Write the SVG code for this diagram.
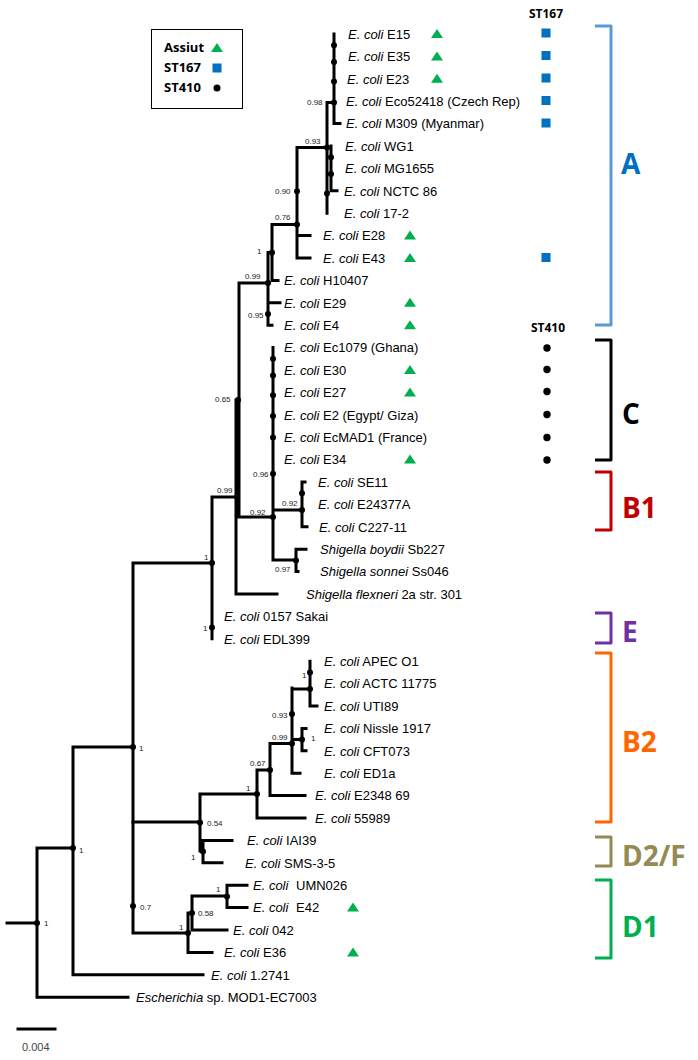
<svg xmlns="http://www.w3.org/2000/svg" width="698" height="1060" viewBox="0 0 698 1060">
<style>
.tr{fill:none;stroke:#000;stroke-width:3;stroke-linecap:square}
.lf{font-family:"Liberation Sans",Arial,sans-serif;font-size:13px;fill:#000}
.it{font-style:italic}
.bs{font-family:"Liberation Sans",Arial,sans-serif;font-size:8px;fill:#222}
.hd{font-family:"Open Sans","Liberation Sans",sans-serif;font-weight:bold;font-size:12px;fill:#000}
.lg{font-family:"Open Sans","Liberation Sans",sans-serif;font-weight:bold;font-size:13px;fill:#000}
.cl{font-family:"Open Sans","Liberation Sans",sans-serif;font-weight:bold;font-size:28px}
.br{fill:none;stroke-width:3;stroke-linejoin:round}
.tri{fill:#00b050}
.sq{fill:#0070c0}
</style>
<defs>
<path id="tri" d="M-6,4 L6,4 L0,-5 Z"/>
<rect id="sq" x="-4.5" y="-4.5" width="9" height="9"/>
</defs>
<g id="legend">
<rect x="151.5" y="29.5" width="91" height="79" fill="#fff" stroke="#000" stroke-width="1"/>
<text class="lg" x="164" y="52">Assiut</text>
<text class="lg" x="164" y="72">ST167</text>
<text class="lg" x="164" y="92">ST410</text>
<use href="#tri" x="217" y="48" class="tri"/>
<use href="#sq" x="217" y="68" class="sq"/>
<circle cx="217" cy="88" r="3.5" fill="#000"/>
</g>
<g id="connectors">
<path class="tr" d="M334,34 V123.6 H340 M327,102.4 H334 M327,102.4 V213.2 M297,147.5 H327 M331,146 V190.8 H337 M327,174 H331 M297,147.5 V258 M297,235.6 H310 M297,258 H310 M272,224.6 H297 M272,224.6 V280.4 H278 M268,252.5 H272 M268,252.5 V325.2 H272 M268,302.8 H280 M239,283 H268 M239,283 V517 M236,400 V594 H277 M212,497 H237 M239,517 H273 M273,347.6 V560 H296 M273,510 H302 M302,482 V526.8 H307 M302,482 H305 M296,549.2 V571.6 H298 M296,549.2 H306 M212,497 V638.8"/>
<path class="tr" d="M133,563 H212 M133,563 V933 H188 M73,747 H133 M73,747 V974.8 H203 M37,848 H73 M37,848 V997.2 H128 M7,923 H37"/>
<path class="tr" d="M133,822 H200 M200,794 V851 H203 M203,840.4 V862.8 H222 M203,840.4 H232 M200,794 H257 M257,770 V818 H305 M257,770 H270 M270,743.6 V795.6 H305 M270,743.6 H292 M292,739.6 H302 M292,688 V773.2 H300 M302,728.4 V750.8 H306 M302,728.4 H306 M292,689 H310 M310,661.2 V706 H317"/>
<path class="tr" d="M188,913 V952.4 H212 M192,896 V930 H227 M188,913 H192 M192,896 H227 M227,885.2 V907.6 H247 M227,885.2 H247"/>
<path class="tr" d="M18,1029 H55"/>
<g fill="#000">
<circle cx="334" cy="45.2" r="3"/><circle cx="334" cy="62" r="3"/><circle cx="334" cy="81.6" r="3"/><circle cx="334" cy="102.4" r="3"/>
<circle cx="327" cy="147.5" r="3"/><circle cx="331" cy="157.2" r="3"/><circle cx="331" cy="174" r="3"/><circle cx="327" cy="193.6" r="3"/>
<circle cx="297" cy="191.3" r="3"/><circle cx="297" cy="224.6" r="3"/><circle cx="272" cy="252.5" r="3"/><circle cx="268" cy="283" r="3"/><circle cx="268" cy="314" r="3"/>
<circle cx="238" cy="400" r="3"/><circle cx="237" cy="497" r="3"/><circle cx="273" cy="517" r="3"/>
<circle cx="273" cy="358.8" r="3"/><circle cx="273" cy="375.6" r="3"/><circle cx="273" cy="395.2" r="3"/><circle cx="273" cy="416" r="3"/><circle cx="273" cy="437.6" r="3"/><circle cx="273" cy="473.8" r="3"/>
<circle cx="302" cy="493.2" r="3"/><circle cx="302" cy="510" r="3"/><circle cx="296" cy="560.4" r="3"/>
<circle cx="212" cy="563" r="3"/><circle cx="212" cy="627.6" r="3"/>
<circle cx="310" cy="672.4" r="3"/><circle cx="310" cy="689" r="3"/><circle cx="292" cy="714" r="3"/><circle cx="292" cy="743.6" r="3"/><circle cx="302" cy="739.6" r="3"/><circle cx="270" cy="770" r="3"/><circle cx="257" cy="794" r="3"/><circle cx="200" cy="822.5" r="3"/><circle cx="203" cy="851.6" r="3"/>
<circle cx="133" cy="747" r="3"/><circle cx="133" cy="906" r="3"/><circle cx="188" cy="933" r="3"/><circle cx="192" cy="913" r="3"/><circle cx="227" cy="896.4" r="3"/>
<circle cx="73" cy="848" r="3"/><circle cx="37" cy="923" r="3"/>
</g>
</g>
<g id="support">
<text class="bs" x="307" y="105">0.98</text>
<text class="bs" x="305" y="144">0.93</text>
<text class="bs" x="275" y="194">0.90</text>
<text class="bs" x="275" y="220">0.76</text>
<text class="bs" x="257" y="254">1</text>
<text class="bs" x="245" y="279">0.99</text>
<text class="bs" x="248" y="318">0.95</text>
<text class="bs" x="215" y="402">0.65</text>
<text class="bs" x="217" y="493">0.99</text>
<text class="bs" x="250" y="515">0.92</text>
<text class="bs" x="253" y="477">0.96</text>
<text class="bs" x="282" y="506">0.92</text>
<text class="bs" x="275" y="572">0.97</text>
<text class="bs" x="204" y="560">1</text>
<text class="bs" x="203" y="631">1</text>
<text class="bs" x="302" y="678">1</text>
<text class="bs" x="272" y="718">0.93</text>
<text class="bs" x="272" y="740">0.99</text>
<text class="bs" x="311" y="741">1</text>
<text class="bs" x="250" y="766">0.67</text>
<text class="bs" x="246" y="791">1</text>
<text class="bs" x="207" y="826">0.54</text>
<text class="bs" x="191" y="860">1</text>
<text class="bs" x="140" y="910">0.7</text>
<text class="bs" x="216" y="892">1</text>
<text class="bs" x="198" y="916">0.58</text>
<text class="bs" x="179" y="930">1</text>
<text class="bs" x="139" y="751">1</text>
<text class="bs" x="79" y="853">1</text>
<text class="bs" x="44" y="926">1</text>
</g>
<g id="leaves">
<text class="lf" x="348" y="38.7"><tspan class="it">E. coli</tspan> E15</text>
<text class="lf" x="348" y="61.1"><tspan class="it">E. coli</tspan> E35</text>
<text class="lf" x="347" y="83.5"><tspan class="it">E. coli</tspan> E23</text>
<text class="lf" x="346" y="105.9"><tspan class="it">E. coli</tspan> Eco52418 (Czech Rep)</text>
<text class="lf" x="346" y="128.3"><tspan class="it">E. coli</tspan> M309 (Myanmar)</text>
<text class="lf" x="345" y="150.7"><tspan class="it">E. coli</tspan> WG1</text>
<text class="lf" x="345" y="173.1"><tspan class="it">E. coli</tspan> MG1655</text>
<text class="lf" x="344" y="195.5"><tspan class="it">E. coli</tspan> NCTC 86</text>
<text class="lf" x="344" y="217.9"><tspan class="it">E. coli</tspan> 17-2</text>
<text class="lf" x="323" y="240.3"><tspan class="it">E. coli</tspan> E28</text>
<text class="lf" x="323" y="262.7"><tspan class="it">E. coli</tspan> E43</text>
<text class="lf" x="284" y="285.1"><tspan class="it">E. coli</tspan> H10407</text>
<text class="lf" x="284" y="307.5"><tspan class="it">E. coli</tspan> E29</text>
<text class="lf" x="284" y="329.9"><tspan class="it">E. coli</tspan> E4</text>
<text class="lf" x="284" y="352.3"><tspan class="it">E. coli</tspan> Ec1079 (Ghana)</text>
<text class="lf" x="284" y="374.7"><tspan class="it">E. coli</tspan> E30</text>
<text class="lf" x="284" y="397.1"><tspan class="it">E. coli</tspan> E27</text>
<text class="lf" x="284" y="419.5"><tspan class="it">E. coli</tspan> E2 (Egypt/ Giza)</text>
<text class="lf" x="284" y="441.9"><tspan class="it">E. coli</tspan> EcMAD1 (France)</text>
<text class="lf" x="284" y="464.3"><tspan class="it">E. coli</tspan> E34</text>
<text class="lf" x="318" y="486.7"><tspan class="it">E. coli</tspan> SE11</text>
<text class="lf" x="318" y="509.1"><tspan class="it">E. coli</tspan> E24377A</text>
<text class="lf" x="319" y="531.5"><tspan class="it">E. coli</tspan> C227-11</text>
<text class="lf" x="320" y="553.9"><tspan class="it">Shigella boydii</tspan> Sb227</text>
<text class="lf" x="320" y="576.3"><tspan class="it">Shigella sonnei</tspan> Ss046</text>
<text class="lf" x="306" y="598.7"><tspan class="it">Shigella flexneri</tspan> 2a str. 301</text>
<text class="lf" x="224" y="621.1"><tspan class="it">E. coli</tspan> 0157 Sakai</text>
<text class="lf" x="224" y="643.5"><tspan class="it">E. coli</tspan> EDL399</text>
<text class="lf" x="324" y="665.9"><tspan class="it">E. coli</tspan> APEC O1</text>
<text class="lf" x="324" y="688.3"><tspan class="it">E. coli</tspan> ACTC 11775</text>
<text class="lf" x="324" y="710.7"><tspan class="it">E. coli</tspan> UTI89</text>
<text class="lf" x="324" y="733.1"><tspan class="it">E. coli</tspan> Nissle 1917</text>
<text class="lf" x="324" y="755.5"><tspan class="it">E. coli</tspan> CFT073</text>
<text class="lf" x="324" y="777.9"><tspan class="it">E. coli</tspan> ED1a</text>
<text class="lf" x="315" y="800.3"><tspan class="it">E. coli</tspan> E2348 69</text>
<text class="lf" x="315" y="822.7"><tspan class="it">E. coli</tspan> 55989</text>
<text class="lf" x="247" y="845.1"><tspan class="it">E. coli</tspan> IAI39</text>
<text class="lf" x="245" y="867.5"><tspan class="it">E. coli</tspan> SMS-3-5</text>
<text class="lf" x="253" y="889.9"><tspan class="it">E. coli</tspan><tspan dx="4"> UMN026</tspan></text>
<text class="lf" x="253" y="912.3"><tspan class="it">E. coli</tspan><tspan dx="4"> E42</tspan></text>
<text class="lf" x="233" y="934.7"><tspan class="it">E. coli</tspan> 042</text>
<text class="lf" x="224" y="957.1"><tspan class="it">E. coli</tspan> E36</text>
<text class="lf" x="211" y="979.5"><tspan class="it">E. coli</tspan> 1.2741</text>
<text class="lf" x="136" y="1001.9"><tspan class="it">Escherichia</tspan> sp. MOD1-EC7003</text>
</g>
<g id="markers">
<use href="#tri" x="437" y="34" class="tri"/>
<use href="#tri" x="437" y="56.4" class="tri"/>
<use href="#tri" x="437" y="78.8" class="tri"/>
<use href="#tri" x="410" y="235.6" class="tri"/>
<use href="#tri" x="410" y="258" class="tri"/>
<use href="#tri" x="410" y="302.8" class="tri"/>
<use href="#tri" x="410" y="325.2" class="tri"/>
<use href="#tri" x="410" y="370" class="tri"/>
<use href="#tri" x="410" y="392.4" class="tri"/>
<use href="#tri" x="410" y="459.6" class="tri"/>
<use href="#tri" x="353" y="907.6" class="tri"/>
<use href="#tri" x="353" y="952.4" class="tri"/>
<text class="hd" x="546" y="18" text-anchor="middle">ST167</text>
<use href="#sq" x="546" y="33" class="sq"/>
<use href="#sq" x="546" y="55.5" class="sq"/>
<use href="#sq" x="546" y="78" class="sq"/>
<use href="#sq" x="546" y="100.5" class="sq"/>
<use href="#sq" x="546" y="123" class="sq"/>
<use href="#sq" x="546" y="257.5" class="sq"/>
<text class="hd" x="548" y="332" text-anchor="middle">ST410</text>
<g fill="#000">
<circle cx="547" cy="348" r="3.7"/><circle cx="547" cy="369.5" r="3.7"/><circle cx="547" cy="391.5" r="3.7"/><circle cx="547" cy="414.5" r="3.7"/><circle cx="547" cy="437.5" r="3.7"/><circle cx="547" cy="460" r="3.7"/>
</g>
</g>
<g id="clades">
<path class="br" stroke="#5b9bd5" d="M595,26 H611 V325 H595"/>
<text class="cl" x="621" y="174" fill="#0070c0">A</text>
<path class="br" stroke="#000" d="M595,340 H611 V460 H595"/>
<text class="cl" x="622" y="424" fill="#000">C</text>
<path class="br" stroke="#c00000" d="M595,472 H611 V530 H595"/>
<text class="cl" x="622" y="518" fill="#c00000">B1</text>
<path class="br" stroke="#7030a0" d="M595,613 H611 V643 H595"/>
<text class="cl" x="622" y="642" fill="#7030a0">E</text>
<path class="br" stroke="#ff6600" d="M595,653 H611 V822 H595"/>
<text class="cl" x="622" y="752" fill="#ff6600">B2</text>
<path class="br" stroke="#948a54" d="M595,837 H611 V866 H595"/>
<text class="cl" x="622" y="866" fill="#948a54">D2/F</text>
<path class="br" stroke="#00b050" d="M595,880 H611 V958 H595"/>
<text class="cl" x="622" y="937" fill="#00b050">D1</text>
</g>
<text x="22" y="1051" font-family="Liberation Sans, Arial, sans-serif" font-size="11" fill="#444">0.004</text>
</svg>
